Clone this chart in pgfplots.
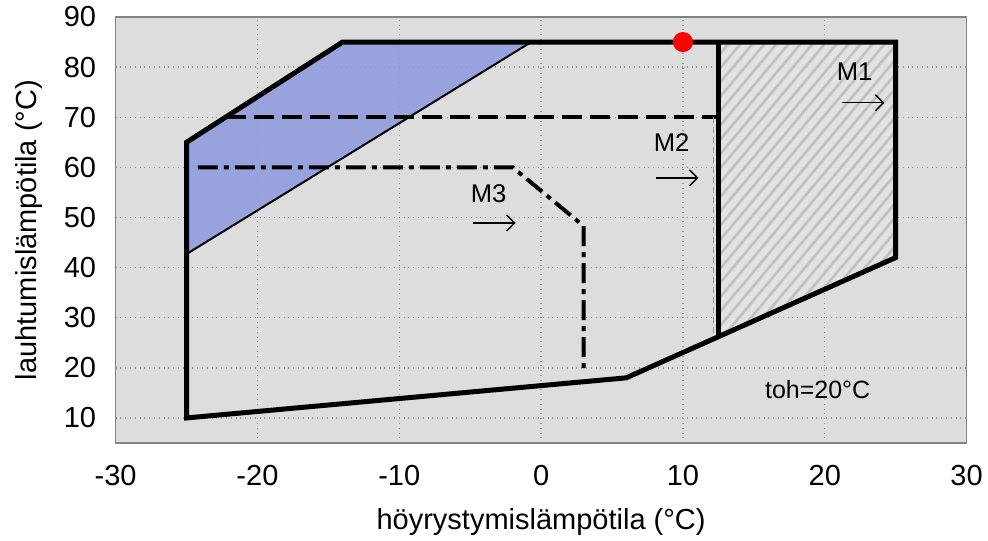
\documentclass[border=0pt]{standalone}
\usepackage{fontspec}
\setmainfont{Liberation Sans}
\usepackage{pgfplots}
\pgfplotsset{compat=1.18}
\usetikzlibrary{patterns.meta,arrows.meta}
\definecolor{bg}{RGB}{221,221,221}
\definecolor{bluefill}{RGB}{145,156,222}
\definecolor{hatchbg}{RGB}{228,228,228}
\definecolor{hatchline}{RGB}{192,192,192}
\definecolor{gridc}{RGB}{150,150,150}
\definecolor{framec}{RGB}{130,130,130}
\begin{document}
\begin{tikzpicture}
\begin{axis}[
  name=ax,
  scale only axis,
  width=425.5pt, height=213pt,
  xmin=-30, xmax=30, ymin=5, ymax=90,
  xtick={-30,-20,...,30},
  ytick={10,20,...,90},
  grid=major,
  major grid style={draw=gridc, dotted, line width=0.7pt},
  axis line style={draw=framec, line width=0.7pt},
  tick style={draw=none},
  axis background/.style={fill=bg},
  /pgf/number format/assume math mode=true,
  tick label style={font=\fontsize{14.5}{17}\selectfont},
  xticklabel style={yshift=-7.7pt},
  yticklabel style={xshift=-6.2pt},
  xlabel={höyrystymislämpötila (°C)},
  ylabel={lauhtumislämpötila (°C)},
  label style={font=\fontsize{14.5}{17}\selectfont},
  xlabel style={at={(axis description cs:0.5,-0.2019)}, anchor=base},
  ylabel style={at={(axis description cs:-0.0935,0.5)}, anchor=base},
]
% hatched region (M1)
\addplot[draw=none, fill=hatchbg, fill opacity=0.8] coordinates {(12.5,85) (25,85) (25,42) (12.5,26.2)} -- cycle;
\addplot[draw=none, pattern={Lines[angle=50,distance=4.6pt,line width=1.3pt]}, pattern color=hatchline] coordinates {(12.5,85) (25,85) (25,42) (12.5,26.2)} -- cycle;
% blue region
\addplot[draw=none, fill=bluefill, fill opacity=0.9] coordinates {(-25,42.7) (-25,65) (-14,85) (-0.7,85)} -- cycle;
\addplot[black, line width=1pt] coordinates {(-25,42.7) (-0.7,85)};
% M2 dashed
\addplot[black, line width=2pt, dash pattern=on 10pt off 4pt] coordinates {(-22.25,70) (12.5,70)};
\addplot[gray!80, line width=0.6pt, dash pattern=on 3pt off 2pt] coordinates {(12.15,70) (12.15,27)};
% M3 dash-dot
\addplot[black, line width=2pt, dash pattern=on 10pt off 3pt on 2.5pt off 3pt] coordinates {(-24.2,60) (-2,60) (3,48.3) (3,19.7)};
% M1 line
\addplot[black, line width=2.2pt] coordinates {(12.5,85) (12.5,26.2)};
% envelope
\addplot[black, line width=2.5pt, line join=miter] coordinates {(-25,10) (-25,65) (-14,85) (25,85) (25,42) (6,18) (-25,10)} -- cycle;
% red point
\addplot[only marks, mark=*, mark size=4.8pt, color=red, mark options={draw=red, fill=red}] coordinates {(10,85)};
% annotations
\node[font=\fontsize{12.8}{15}\selectfont] at (axis cs:22.1,79) {M1};
\node[font=\fontsize{12.8}{15}\selectfont] at (axis cs:9.2,65) {M2};
\node[font=\fontsize{12.8}{15}\selectfont] at (axis cs:-3.7,54.7) {M3};
\node[font=\fontsize{12.5}{15}\selectfont] at (axis cs:19.5,15.7) {toh=20°C};
\draw[line width=0.7pt, -{Straight Barb[length=4pt,width=8pt]}] (axis cs:21.2,72.9) -- (axis cs:24.2,72.9);
\draw[line width=0.7pt, -{Straight Barb[length=4pt,width=8pt]}] (axis cs:8.1,57.9) -- (axis cs:11.1,57.9);
\draw[line width=0.7pt, -{Straight Barb[length=4pt,width=8pt]}] (axis cs:-4.8,48.9) -- (axis cs:-1.8,48.9);
\end{axis}
\pgfresetboundingbox
\path[use as bounding box] ([shift={(-57.8pt,-48.5pt)}]ax.south west) rectangle ++(494pt,270pt);
\end{tikzpicture}
\end{document}
